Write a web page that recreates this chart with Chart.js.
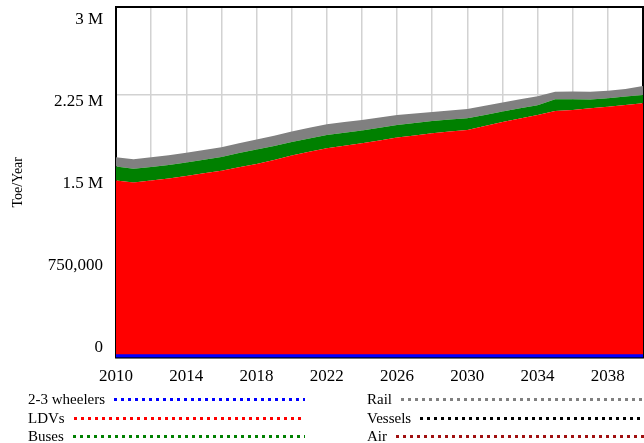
<!DOCTYPE html>
<html>
<head>
<meta charset="utf-8">
<script src="https://cdn.jsdelivr.net/npm/chart.js@4/dist/chart.umd.min.js"></script>
<style>
  body { margin: 0; background: #fff; }
  #wrap { position: relative; width: 644px; height: 443px; overflow: hidden; }
  #legend { position: absolute; left: 0; top: 0; width: 644px; height: 443px; pointer-events: none;
            font-family: "Liberation Serif", "Times New Roman", serif; font-size: 15px; color: #000; }
  .item { position: absolute; display: flex; align-items: center; height: 18px; }
  .dots { flex: 1; height: 3px; margin-left: 9px; }
</style>
</head>
<body>
<div id="wrap">
  <canvas id="chart" width="644" height="443"></canvas>
  <div id="legend"></div>
</div>
<script>
const years = [2010, 2011, 2012, 2013, 2014, 2015, 2016, 2017, 2018, 2019, 2020,
  2021, 2022, 2023, 2024, 2025, 2026, 2027, 2028, 2029, 2030,
  2031, 2032, 2033, 2034, 2035, 2036, 2037, 2038, 2039, 2040]

const wheelers = [15000, 15000, 15000, 15000, 15000, 15000, 15000, 15000, 15000, 15000, 15000,
  15000, 15000, 15000, 15000, 15000, 15000, 15000, 15000, 15000, 15000,
  15000, 15000, 15000, 15000, 15000, 15000, 15000, 15000, 15000, 15000]
const ldvs = [1499000, 1482000, 1499000, 1518000, 1539000, 1561000, 1584000, 1613000, 1642000, 1675000, 1713000,
  1745000, 1776000, 1798000, 1819000, 1843000, 1867000, 1886000, 1905000, 1920000, 1933000,
  1966000, 2000000, 2030000, 2060000, 2095000, 2104000, 2119000, 2132000, 2147000, 2161000]
const buses = [120000, 119000, 116000, 115000, 114000, 116000, 118000, 122000, 124000, 120000, 116000,
  115000, 114000, 111000, 108000, 108000, 108000, 106000, 104000, 102000, 100000,
  95000, 90000, 88000, 85000, 100000, 92000, 75000, 72000, 71000, 71000]
const rail = [80000, 81000, 83000, 84000, 85000, 84000, 83000, 84000, 85000, 88000, 91000,
  92000, 92000, 91000, 91000, 88000, 85000, 81000, 77000, 78000, 80000,
  78000, 77000, 77000, 77000, 65000, 65000, 66000, 65000, 66000, 77000]
const vessels = [0, 0, 0, 0, 0, 0, 0, 0, 0, 0, 0, 0, 0, 0, 0, 0, 0, 0, 0, 0, 0, 0, 0, 0, 0, 0, 0, 0, 0, 0, 0]
const air = [0, 0, 0, 0, 0, 0, 0, 0, 0, 0, 0, 0, 0, 0, 0, 0, 0, 0, 0, 0, 0, 0, 0, 0, 0, 0, 0, 0, 0, 0, 0]

const yTicks = [0, 750000, 1500000, 2250000, 3000000]
const yTickLabels = ['0', '750,000', '1.5 M', '2.25 M', '3 M']

const serif = '"Liberation Serif", "Times New Roman", serif'

function series(label, values, color, first) {
    return {
        label: label,
        data: values.map((v, i) => ({ x: years[i], y: v })),
        backgroundColor: color,
        borderColor: color,
        borderWidth: 0,
        pointRadius: 0,
        tension: 0,
        fill: first ? 'origin' : '-1',
    }
}

const datasets = [
    series('2-3 wheelers', wheelers, '#0000ff', true),
    series('LDVs', ldvs, '#ff0000'),
    series('Buses', buses, '#008000'),
    series('Rail', rail, '#808080'),
    series('Vessels', vessels, '#000000'),
    series('Air', air, '#a01010'),
]
datasets[0].borderWidth = 3
datasets[0].clip = 4

// black frame round the plot, drawn under the areas
const frame = {
    id: 'frame',
    beforeDatasetsDraw(chart) {
        const a = chart.chartArea
        const ctx = chart.ctx
        ctx.save()
        ctx.strokeStyle = '#000'
        ctx.lineWidth = 2
        ctx.strokeRect(a.left, a.top, a.right - a.left, a.bottom - a.top)
        ctx.restore()
    }
}

// y labels sit a bit inside the frame, like the original tool draws them
const yLabels = {
    id: 'yLabels',
    afterDraw(chart) {
        const s = chart.scales.y
        const ctx = chart.ctx
        const h = s.bottom - s.top
        ctx.save()
        ctx.fillStyle = '#000'
        ctx.font = '17px ' + serif
        ctx.textAlign = 'right'
        ctx.textBaseline = 'middle'
        yTicks.forEach((v, i) => {
            const p = s.getPixelForValue(v)
            const y = s.top + 12.5 + (p - s.top) * (h - 22) / h
            ctx.fillText(yTickLabels[i], s.right - 13, y)
        })
        ctx.restore()
    }
}

new Chart(document.getElementById('chart'), {
    type: 'line',
    data: { datasets: datasets },
    plugins: [frame, yLabels],
    options: {
        responsive: false,
        animation: false,
        layout: { padding: { left: 0, right: 1, top: 7, bottom: 0 } },
        plugins: { legend: { display: false }, tooltip: { enabled: false } },
        scales: {
            x: {
                type: 'linear',
                min: 2010,
                max: 2040,
                grid: { color: '#d2d2d2', lineWidth: 1.5, drawTicks: false },
                border: { display: false },
                afterFit: s => { s.height = 85.5; s.paddingLeft = 0; s.paddingRight = 0 },
                ticks: {
                    stepSize: 2,
                    padding: 9,
                    maxRotation: 0,
                    minRotation: 0,
                    autoSkip: false,
                    color: '#000',
                    font: { family: serif, size: 17 },
                    callback: v => ((v - 2010) % 4 === 0 ? String(v) : ''),
                },
            },
            y: {
                stacked: true,
                min: 0,
                max: 3000000,
                grid: { color: '#d2d2d2', lineWidth: 1.5, drawTicks: false },
                border: { display: false },
                afterFit: s => { s.width = 116; s.paddingTop = 0; s.paddingBottom = 0 },
                afterBuildTicks: s => { s.ticks = yTicks.map(v => ({ value: v })) },
                title: {
                    display: true,
                    text: 'Toe/Year',
                    color: '#000',
                    font: { family: serif, size: 14 },
                    padding: { top: 10, bottom: 0 },
                },
                ticks: { display: false },
            },
        },
    },
})

// legend in two columns with dotted sample lines
const legend = document.getElementById('legend')
const rowsTop = [390, 409, 427]
datasets.forEach((d, i) => {
    const col = Math.floor(i / 3)
    const row = i % 3
    const item = document.createElement('div')
    item.className = 'item'
    item.style.left = (col === 0 ? 28 : 367) + 'px'
    item.style.top = rowsTop[row] + 'px'
    item.style.width = (col === 0 ? 277 : 290) + 'px'
    const name = document.createElement('span')
    name.textContent = d.label
    const dots = document.createElement('span')
    dots.className = 'dots'
    dots.style.background = 'repeating-linear-gradient(90deg, ' + d.borderColor + ' 0 3px, transparent 3px 7px)'
    item.appendChild(name)
    item.appendChild(dots)
    legend.appendChild(item)
})
</script>
</body>
</html>
